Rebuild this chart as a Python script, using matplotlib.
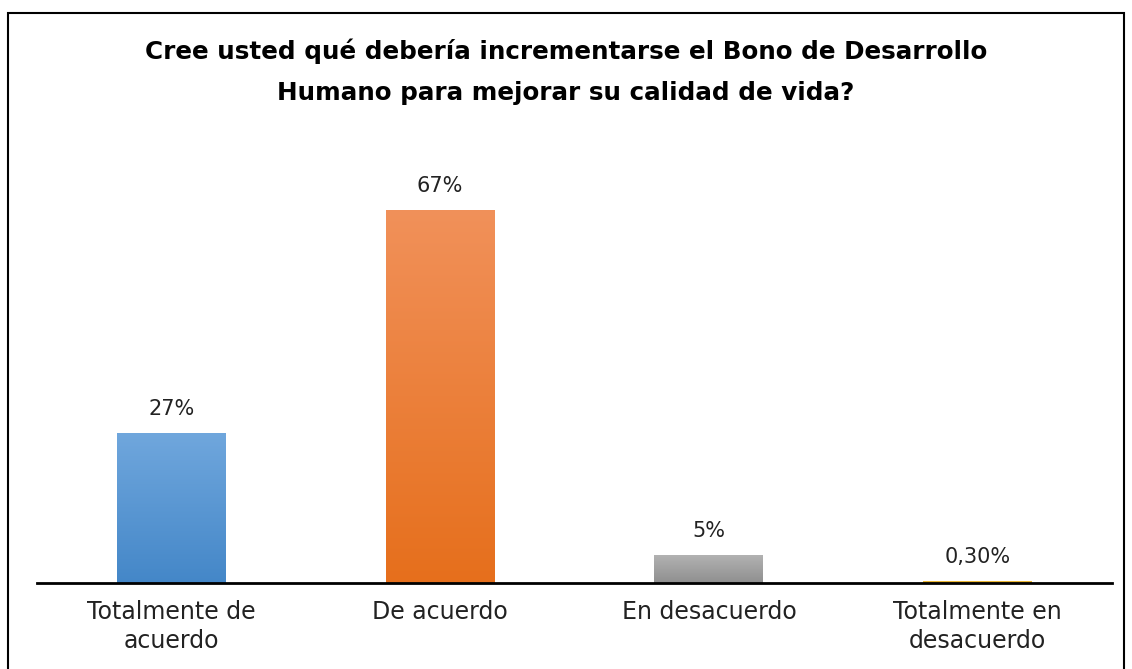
import numpy as np
import matplotlib.pyplot as plt
from matplotlib.patches import Rectangle
from matplotlib.colors import LinearSegmentedColormap

categorias = ['Totalmente de\nacuerdo', 'De acuerdo', 'En desacuerdo', 'Totalmente en\ndesacuerdo']
valores = [27, 67, 5, 0.3]
etiquetas = ['27%', '67%', '5%', '0,30%']
# colores (arriba, abajo) del degradado de cada barra
colores = [('#70a7dd', '#4487c8'), ('#f1915a', '#e66f1c'),
           ('#b2b2b2', '#8f8f8f'), ('#f2c040', '#d9a010')]

W, H = 1132, 669
fig = plt.figure(figsize=(W/100, H/100), dpi=100)
ax = fig.add_axes([37/W, (H-583)/H, 1075/W, 445.6/H])

x = np.arange(len(categorias))
barras = ax.bar(x, valores, width=0.405, color='none')
ax.set_xlim(-0.5, 3.5)
ax.set_ylim(0, 80)

grad = np.linspace(1, 0, 256).reshape(-1, 1)
for b, (c1, c2) in zip(barras, colores):
    cmap = LinearSegmentedColormap.from_list('g', [c2, c1])
    x0, y0 = b.get_x(), b.get_y()
    ext = [x0, x0 + b.get_width(), y0, y0 + b.get_height()]
    im = ax.imshow(grad, cmap=cmap, aspect='auto', extent=ext, zorder=2)
    im.set_clip_path(b)

for xi, v, t in zip(x, valores, etiquetas):
    ax.annotate(t, (xi, v), xytext=(0, 10), textcoords='offset points',
                ha='center', va='bottom', fontsize=15, color='#222222')

ax.set_xticks(x)
ax.set_xticklabels(categorias, fontsize=17, color='#222222', linespacing=1.3)
ax.tick_params(axis='x', length=0, pad=12)
ax.set_yticks([])
for s in ['top', 'right', 'left']:
    ax.spines[s].set_visible(False)
ax.spines['bottom'].set_linewidth(2)
ax.spines['bottom'].set_zorder(5)

fig.text(0.5, 1 - 71.5/H, 'Cree usted qué debería incrementarse el Bono de Desarrollo\nHumano para mejorar su calidad de vida?',
         ha='center', va='center', fontsize=17.7, fontweight='bold', linespacing=1.9)

fig.patches.append(Rectangle((7.5/W, -0.05), (1124 - 7.5)/W, 1.05 - 12.5/H,
                             transform=fig.transFigure, fill=False,
                             edgecolor='black', linewidth=1.5))

fig.savefig('out.png', dpi=100)
